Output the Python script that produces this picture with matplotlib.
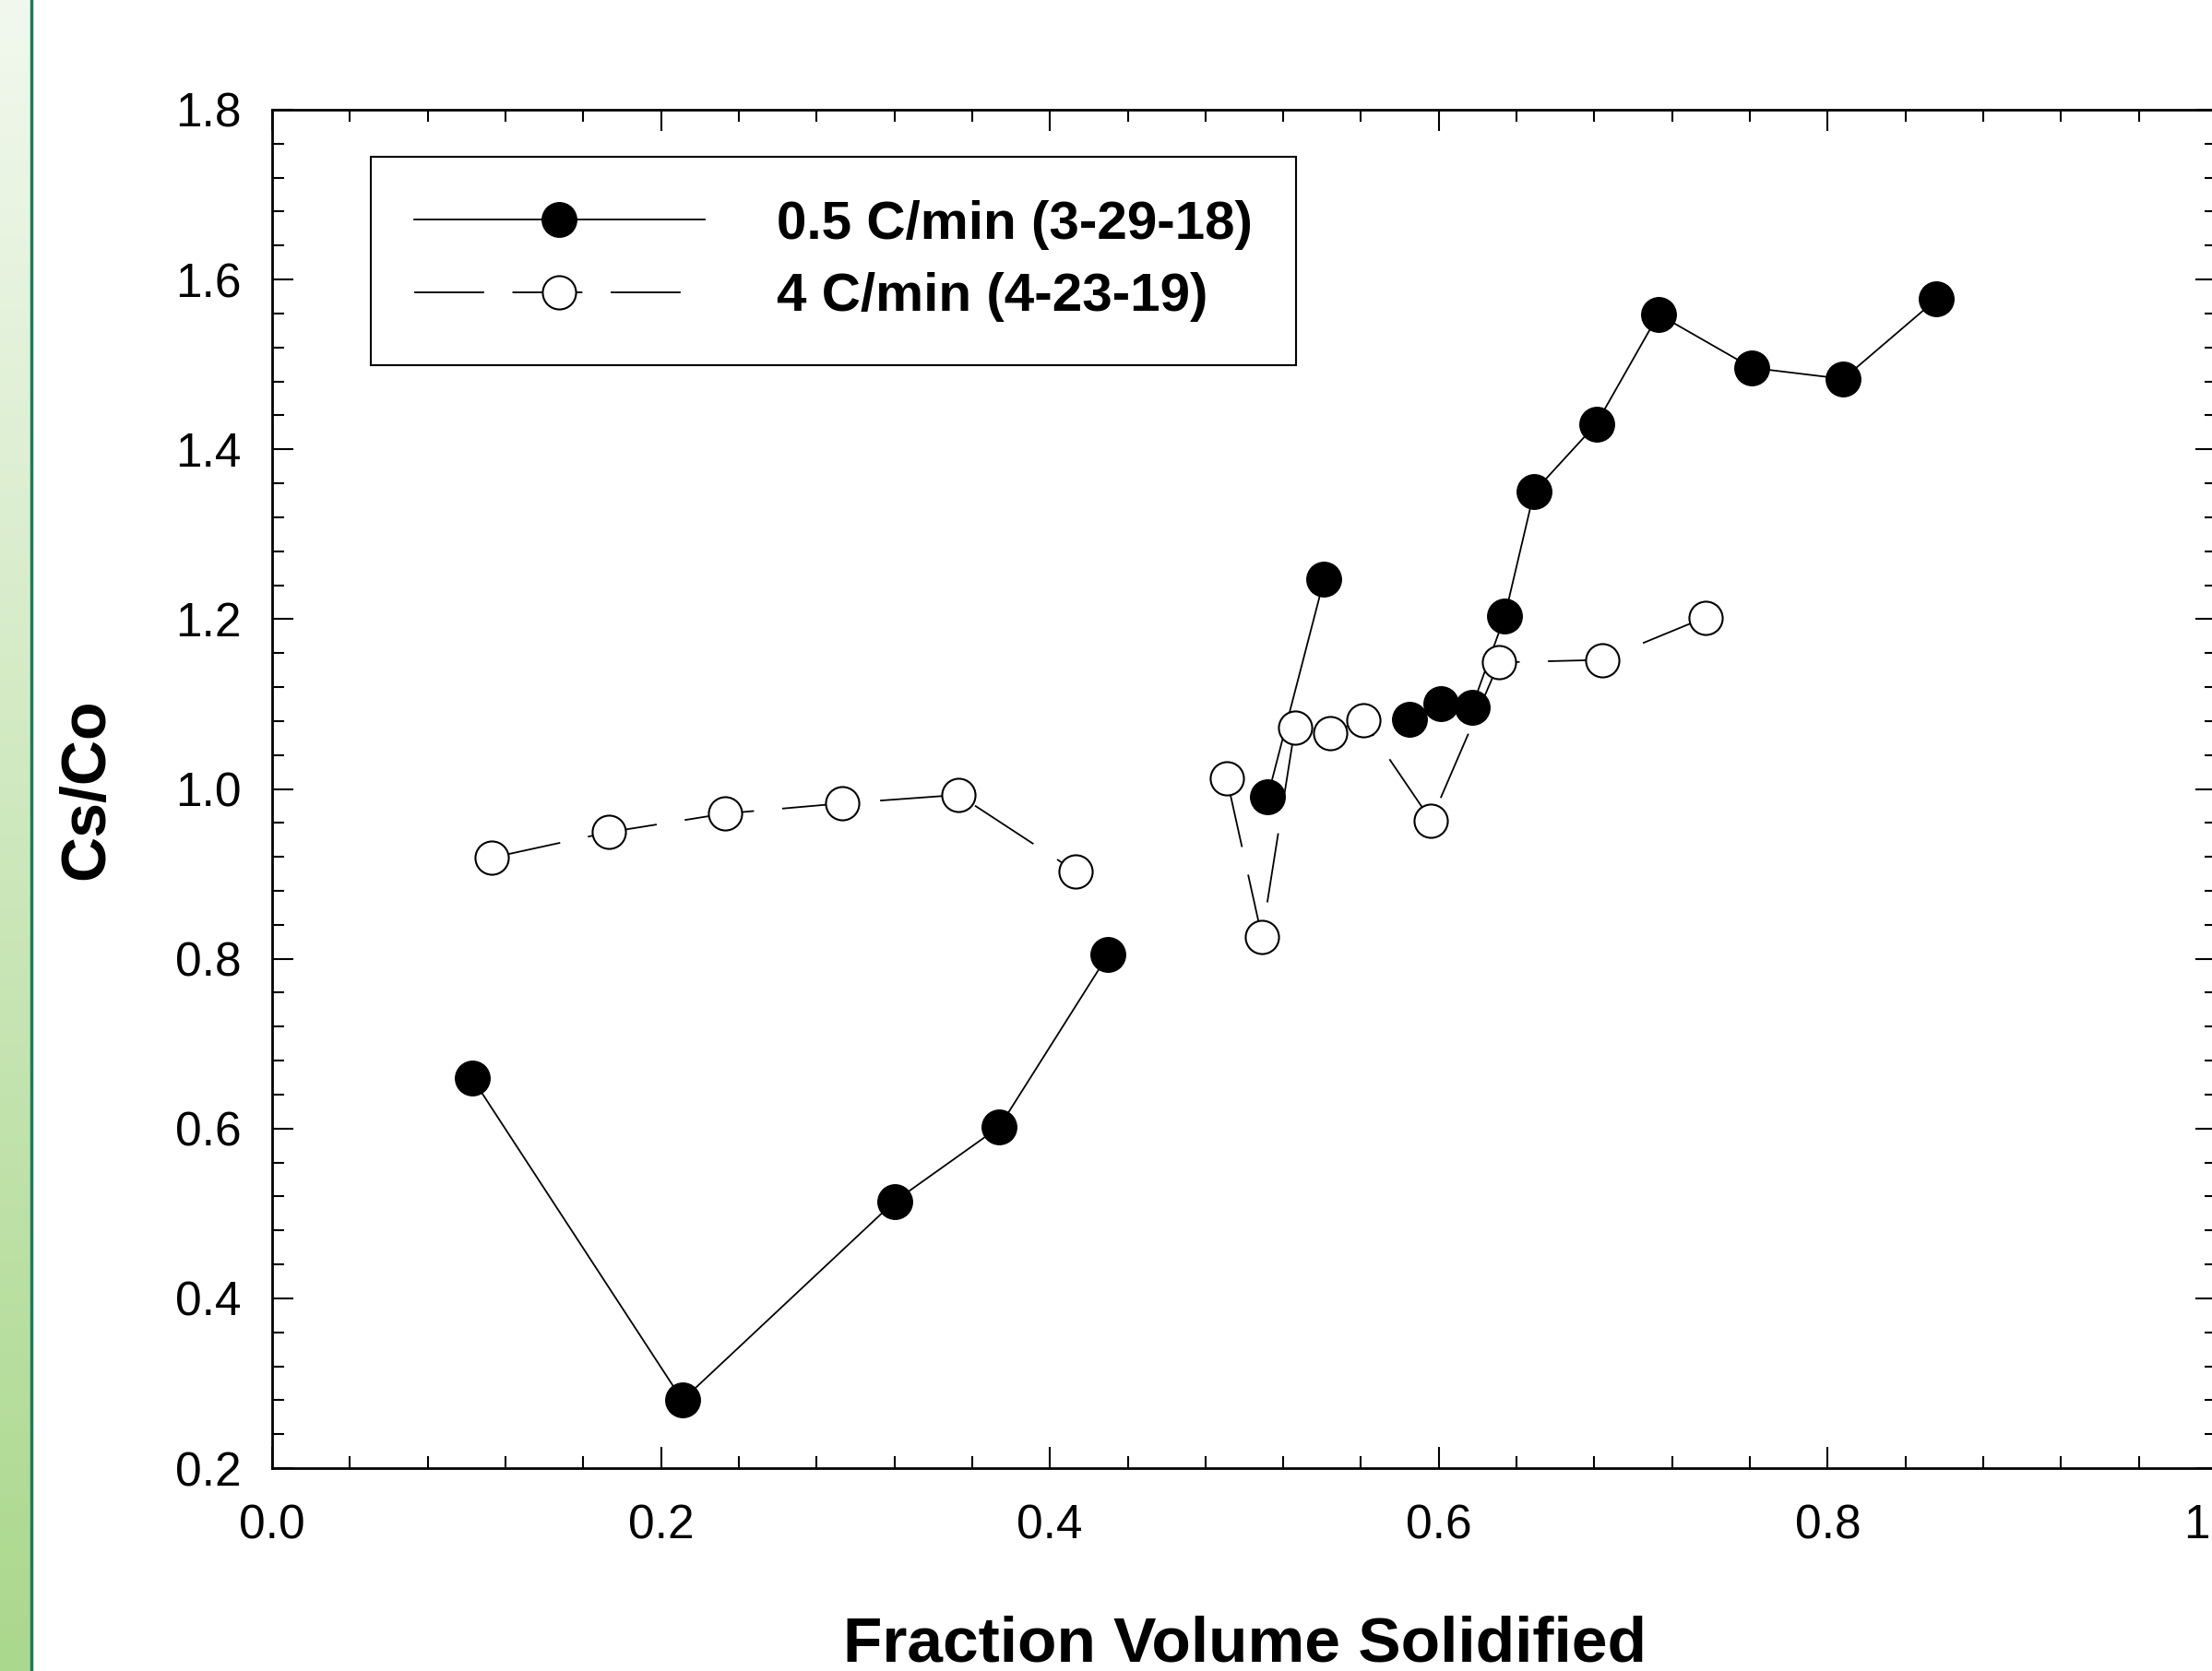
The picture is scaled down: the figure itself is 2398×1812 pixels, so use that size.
import numpy as np
import matplotlib
matplotlib.use("Agg")
import matplotlib.pyplot as plt
from matplotlib.ticker import MultipleLocator, FormatStrFormatter

plt.rcParams['font.family'] = ['Liberation Sans', 'DejaVu Sans']

# date (nan = intrerupere de linie)
frac_slow = [0.103, 0.211, 0.320, 0.374, 0.430, np.nan, 0.512, 0.541, np.nan,
             0.585, 0.601, 0.617, 0.634, 0.649, 0.681, 0.713, 0.761, 0.808, 0.856]
cs_slow = [0.659, 0.280, 0.514, 0.602, 0.805, np.nan, 0.991, 1.247, np.nan,
           1.082, 1.101, 1.096, 1.204, 1.350, 1.430, 1.559, 1.496, 1.483, 1.577]

frac_fast = [0.113, 0.173, 0.233, 0.293, 0.353, 0.413, np.nan,
             0.491, 0.509, 0.526, 0.544, 0.561, 0.596, 0.631, 0.684, 0.737]
cs_fast = [0.919, 0.949, 0.971, 0.983, 0.993, 0.903, np.nan,
           1.012, 0.826, 1.072, 1.066, 1.081, 0.963, 1.149, 1.152, 1.202]

label_slow = '0.5 C/min (3-29-18)'
label_fast = '4 C/min (4-23-19)'

fig = plt.figure(figsize=(23.98, 18.12), dpi=100)

# banda verde din stanga
strip = fig.add_axes([0, 0, 33 / 2398, 1])
grad = np.linspace(0, 1, 256).reshape(-1, 1)
top_c = np.array([242, 248, 238]) / 255
bot_c = np.array([170, 216, 140]) / 255
img = top_c + (bot_c - top_c) * grad[:, :, None]
strip.imshow(img, aspect='auto', extent=[0, 1, 0, 1], origin='upper')
strip.axis('off')
fig.add_artist(plt.Line2D([34 / 2398, 34 / 2398], [0, 1], color='#1d7a55', lw=2.5))

ax = fig.add_axes([295 / 2398, 1 - 1592 / 1812, 2108 / 2398, 1473 / 1812])

ax.plot(frac_slow, cs_slow, color='black', lw=1.3, marker='o', ms=27,
        mfc='black', mec='black', label=label_slow)
ax.plot(frac_fast, cs_fast, color='black', lw=1.3, dashes=(42, 17), marker='o', ms=26,
        mfc='white', mec='black', mew=1.5, label=label_fast)

ax.set_xlim(0, 1.0)
ax.set_ylim(0.2, 1.8)
ax.xaxis.set_major_locator(MultipleLocator(0.2))
ax.xaxis.set_minor_locator(MultipleLocator(0.04))
ax.yaxis.set_major_locator(MultipleLocator(0.2))
ax.yaxis.set_minor_locator(MultipleLocator(0.04))
ax.xaxis.set_major_formatter(FormatStrFormatter('%.1f'))
ax.yaxis.set_major_formatter(FormatStrFormatter('%.1f'))

ax.tick_params(which='both', direction='in', top=True, right=True, width=1.5, color='black')
ax.tick_params(which='major', length=16.5)
ax.tick_params(which='minor', length=9.5)
ax.tick_params(axis='x', which='major', labelsize=37, pad=28)
ax.tick_params(axis='y', which='major', labelsize=37, pad=24)
for s in ax.spines.values():
    s.set_linewidth(2)

ax.set_xlabel('Fraction Volume Solidified', fontsize=50, fontweight='bold')
ax.xaxis.set_label_coords(0.5, -0.108)
ax.set_ylabel('Cs/Co', fontsize=49, fontweight='bold')
ax.yaxis.set_label_coords(-0.0953, 0.5)
ax.yaxis.label.set_va('center')

leg = ax.legend(loc='upper left', bbox_to_anchor=(0.0507, 0.9654),
                prop={'weight': 'bold', 'size': 42}, handlelength=5.4, handletextpad=1.35,
                labelspacing=0.42, borderpad=0.8, borderaxespad=0, fancybox=False,
                framealpha=1, edgecolor='black')
leg.get_frame().set_linewidth(1.5)

fig.savefig('out.png', dpi=100)
